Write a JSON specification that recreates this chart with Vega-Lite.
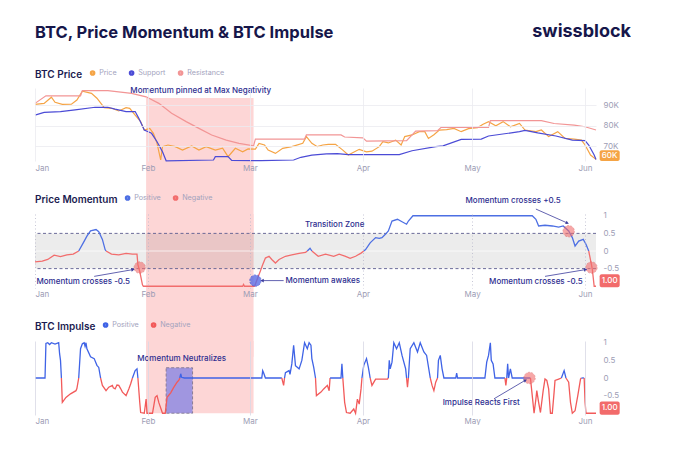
{
  "$schema": "https://vega.github.io/schema/vega-lite/v6.json",
  "background": "white",
  "padding": {"left": 32, "top": 22, "right": 0, "bottom": 0},
  "spacing": 53,
  "bounds": "flush",
  "resolve": {"scale": {"color": "independent"}, "legend": {"color": "independent"}},
  "config": {
    "view": {"stroke": null},
    "font": "Inter",
    "axis": {"domain": false, "ticks": false, "labelColor": "#9d9db5", "labelFontSize": 8, "labelFont": "Inter", "gridColor": "#ebebf0", "gridWidth": 0.8, "labelOverlap": false},
    "legend": {"orient": "top", "direction": "horizontal", "titleOrient": "left", "titleFontSize": 10, "titleFontWeight": 600, "titleColor": "#1b1b50", "titleFont": "Inter", "titleBaseline": "middle", "labelFont": "Inter", "labelFontSize": 7.2, "labelColor": "#a3a3bd", "symbolType": "circle", "symbolSize": 6, "symbolStrokeWidth": 3.2, "offset": 7, "padding": 0, "columnPadding": 6, "labelOffset": 3, "titlePadding": 6},
    "text": {"font": "Inter"}
  },
  "datasets": {
    "band": [{"a": "2026-01-31T12:00Z", "b": "2026-03-02"}],
    "zone": [{"lo": -0.5, "hi": 0.5}],
    "nbox": [{"a": "2026-02-06", "b": "2026-02-13T06:00Z", "lo": -1, "hi": 0.29}],
    "badge": [{"p": 1, "label": "60K"}, {"p": 2, "label": "1.00"}, {"p": 3, "label": "1.00"}],
    "notes": [
      {"p": 1, "t": "2026-02-15T12:00Z", "v": 96800, "txt": "Momentum pinned at Max Negativity"},
      {"p": 2, "t": "2026-03-24T06:00Z", "v": 0.74, "txt": "Transition Zone"},
      {"p": 2, "t": "2026-01-14T06:00Z", "v": -0.89, "txt": "Momentum crosses -0.5"},
      {"p": 2, "t": "2026-03-21", "v": -0.84, "txt": "Momentum awakes"},
      {"p": 2, "t": "2026-05-12T06:00Z", "v": 1.42, "txt": "Momentum crosses +0.5"},
      {"p": 2, "t": "2026-05-18T12:00Z", "v": -0.88, "txt": "Momentum crosses -0.5"},
      {"p": 3, "t": "2026-02-10T06:00Z", "v": 0.53, "txt": "Momentum Neutralizes"},
      {"p": 3, "t": "2026-05-03T12:00Z", "v": -0.72, "txt": "Impulse Reacts First"}
    ],
    "dots": [
      {"p": 2, "k": "neg", "t": "2026-01-29T18:00Z", "v": -0.47},
      {"p": 2, "k": "pos", "t": "2026-03-02T12:00Z", "v": -0.84},
      {"p": 2, "k": "neg", "t": "2026-05-27T12:00Z", "v": 0.56},
      {"p": 2, "k": "neg", "t": "2026-06-02T18:00Z", "v": -0.47},
      {"p": 3, "k": "neg", "t": "2026-05-16T18:00Z", "v": 0}
    ],
    "arrows": [
      {"p": 2, "id": "a1", "t": "2026-01-17T06:00Z", "v": -0.72, "t2": "2026-01-27T18:00Z", "v2": -0.53},
      {"p": 2, "id": "a2", "t": "2026-03-10T06:00Z", "v": -0.84, "t2": "2026-03-04T12:00Z", "v2": -0.84},
      {"p": 2, "id": "a3", "t": "2026-05-18T12:00Z", "v": 1.19, "t2": "2026-05-27", "v2": 0.8},
      {"p": 2, "id": "a4", "t": "2026-05-21", "v": -0.72, "t2": "2026-06-01", "v2": -0.53},
      {"p": 3, "id": "a5", "t": "2026-05-07", "v": -0.59, "t2": "2026-05-15T12:00Z", "v2": -0.07}
    ],
    "price": [
      {"s": "Price", "t": "2026-01-01", "v": 90300},
      {"s": "Price", "t": "2026-01-03T12:00Z", "v": 90800},
      {"s": "Price", "t": "2026-01-05T12:00Z", "v": 93800},
      {"s": "Price", "t": "2026-01-06T12:00Z", "v": 91300},
      {"s": "Price", "t": "2026-01-08T12:00Z", "v": 90300},
      {"s": "Price", "t": "2026-01-11", "v": 90400},
      {"s": "Price", "t": "2026-01-12T12:00Z", "v": 92400},
      {"s": "Price", "t": "2026-01-14", "v": 96800},
      {"s": "Price", "t": "2026-01-16T12:00Z", "v": 95700},
      {"s": "Price", "t": "2026-01-18", "v": 93300},
      {"s": "Price", "t": "2026-01-20", "v": 88700},
      {"s": "Price", "t": "2026-01-22", "v": 88400},
      {"s": "Price", "t": "2026-01-24", "v": 87100},
      {"s": "Price", "t": "2026-01-26", "v": 88700},
      {"s": "Price", "t": "2026-01-27", "v": 88400},
      {"s": "Price", "t": "2026-01-28T12:00Z", "v": 85100},
      {"s": "Price", "t": "2026-01-30", "v": 81900},
      {"s": "Price", "t": "2026-01-31", "v": 77800},
      {"s": "Price", "t": "2026-02-01T12:00Z", "v": 78600},
      {"s": "Price", "t": "2026-02-02T12:00Z", "v": 76200},
      {"s": "Price", "t": "2026-02-03T12:00Z", "v": 71300},
      {"s": "Price", "t": "2026-02-04T12:00Z", "v": 63200},
      {"s": "Price", "t": "2026-02-05", "v": 69700},
      {"s": "Price", "t": "2026-02-06T12:00Z", "v": 70500},
      {"s": "Price", "t": "2026-02-08T12:00Z", "v": 69700},
      {"s": "Price", "t": "2026-02-10T12:00Z", "v": 68000},
      {"s": "Price", "t": "2026-02-13", "v": 70000},
      {"s": "Price", "t": "2026-02-15", "v": 68000},
      {"s": "Price", "t": "2026-02-17", "v": 69700},
      {"s": "Price", "t": "2026-02-19T12:00Z", "v": 68000},
      {"s": "Price", "t": "2026-02-21T12:00Z", "v": 68900},
      {"s": "Price", "t": "2026-02-23", "v": 64800},
      {"s": "Price", "t": "2026-02-25", "v": 68900},
      {"s": "Price", "t": "2026-02-27", "v": 67200},
      {"s": "Price", "t": "2026-02-28T12:00Z", "v": 68600},
      {"s": "Price", "t": "2026-03-02T12:00Z", "v": 68500},
      {"s": "Price", "t": "2026-03-03T12:00Z", "v": 71300},
      {"s": "Price", "t": "2026-03-05", "v": 70500},
      {"s": "Price", "t": "2026-03-06", "v": 68000},
      {"s": "Price", "t": "2026-03-08", "v": 66400},
      {"s": "Price", "t": "2026-03-10", "v": 68900},
      {"s": "Price", "t": "2026-03-12T12:00Z", "v": 69700},
      {"s": "Price", "t": "2026-03-15T12:00Z", "v": 71300},
      {"s": "Price", "t": "2026-03-16T12:00Z", "v": 74600},
      {"s": "Price", "t": "2026-03-18", "v": 71300},
      {"s": "Price", "t": "2026-03-19T12:00Z", "v": 69700},
      {"s": "Price", "t": "2026-03-21", "v": 70500},
      {"s": "Price", "t": "2026-03-22T12:00Z", "v": 70800},
      {"s": "Price", "t": "2026-03-24T12:00Z", "v": 70800},
      {"s": "Price", "t": "2026-03-26T12:00Z", "v": 68000},
      {"s": "Price", "t": "2026-03-28", "v": 65600},
      {"s": "Price", "t": "2026-03-31", "v": 68400},
      {"s": "Price", "t": "2026-04-02", "v": 67200},
      {"s": "Price", "t": "2026-04-03T12:00Z", "v": 67500},
      {"s": "Price", "t": "2026-04-05T12:00Z", "v": 69700},
      {"s": "Price", "t": "2026-04-06T12:00Z", "v": 72100},
      {"s": "Price", "t": "2026-04-08", "v": 71500},
      {"s": "Price", "t": "2026-04-10", "v": 72900},
      {"s": "Price", "t": "2026-04-11T12:00Z", "v": 70500},
      {"s": "Price", "t": "2026-04-12T12:00Z", "v": 74600},
      {"s": "Price", "t": "2026-04-14T12:00Z", "v": 75400},
      {"s": "Price", "t": "2026-04-16T12:00Z", "v": 77000},
      {"s": "Price", "t": "2026-04-18", "v": 77000},
      {"s": "Price", "t": "2026-04-19", "v": 73700},
      {"s": "Price", "t": "2026-04-20T12:00Z", "v": 75500},
      {"s": "Price", "t": "2026-04-22", "v": 77800},
      {"s": "Price", "t": "2026-04-24", "v": 78000},
      {"s": "Price", "t": "2026-04-26", "v": 78600},
      {"s": "Price", "t": "2026-04-28", "v": 77000},
      {"s": "Price", "t": "2026-04-30", "v": 78500},
      {"s": "Price", "t": "2026-05-02T12:00Z", "v": 79000},
      {"s": "Price", "t": "2026-05-04", "v": 80600},
      {"s": "Price", "t": "2026-05-05T12:00Z", "v": 81900},
      {"s": "Price", "t": "2026-05-07T12:00Z", "v": 79900},
      {"s": "Price", "t": "2026-05-09T12:00Z", "v": 81900},
      {"s": "Price", "t": "2026-05-11T12:00Z", "v": 79400},
      {"s": "Price", "t": "2026-05-14", "v": 81000},
      {"s": "Price", "t": "2026-05-15T12:00Z", "v": 77800},
      {"s": "Price", "t": "2026-05-18T12:00Z", "v": 77000},
      {"s": "Price", "t": "2026-05-20", "v": 77800},
      {"s": "Price", "t": "2026-05-22", "v": 74600},
      {"s": "Price", "t": "2026-05-24T12:00Z", "v": 77000},
      {"s": "Price", "t": "2026-05-26T12:00Z", "v": 73700},
      {"s": "Price", "t": "2026-05-29", "v": 73400},
      {"s": "Price", "t": "2026-05-31", "v": 72900},
      {"s": "Price", "t": "2026-06-01", "v": 70500},
      {"s": "Price", "t": "2026-06-02T12:00Z", "v": 65600},
      {"s": "Price", "t": "2026-06-04", "v": 63500},
      {"s": "Support", "t": "2026-01-01", "v": 85100},
      {"s": "Support", "t": "2026-01-03T12:00Z", "v": 86400},
      {"s": "Support", "t": "2026-01-08", "v": 86800},
      {"s": "Support", "t": "2026-01-12", "v": 87600},
      {"s": "Support", "t": "2026-01-17T12:00Z", "v": 88900},
      {"s": "Support", "t": "2026-01-21", "v": 88900},
      {"s": "Support", "t": "2026-01-23", "v": 88000},
      {"s": "Support", "t": "2026-01-26", "v": 86800},
      {"s": "Support", "t": "2026-01-28T12:00Z", "v": 86800},
      {"s": "Support", "t": "2026-01-29T12:00Z", "v": 83500},
      {"s": "Support", "t": "2026-01-31", "v": 77800},
      {"s": "Support", "t": "2026-02-02", "v": 76200},
      {"s": "Support", "t": "2026-02-03T12:00Z", "v": 72100},
      {"s": "Support", "t": "2026-02-05", "v": 67200},
      {"s": "Support", "t": "2026-02-06", "v": 62800},
      {"s": "Support", "t": "2026-02-19", "v": 63200},
      {"s": "Support", "t": "2026-02-19T12:00Z", "v": 64800},
      {"s": "Support", "t": "2026-02-23", "v": 64800},
      {"s": "Support", "t": "2026-02-24", "v": 63000},
      {"s": "Support", "t": "2026-03-04", "v": 62900},
      {"s": "Support", "t": "2026-03-13", "v": 63200},
      {"s": "Support", "t": "2026-03-15", "v": 64500},
      {"s": "Support", "t": "2026-03-18", "v": 65600},
      {"s": "Support", "t": "2026-03-22", "v": 66200},
      {"s": "Support", "t": "2026-03-25", "v": 66300},
      {"s": "Support", "t": "2026-03-28", "v": 65800},
      {"s": "Support", "t": "2026-04-11", "v": 65800},
      {"s": "Support", "t": "2026-04-14T12:00Z", "v": 67700},
      {"s": "Support", "t": "2026-04-21", "v": 69700},
      {"s": "Support", "t": "2026-04-23", "v": 70100},
      {"s": "Support", "t": "2026-04-28", "v": 73200},
      {"s": "Support", "t": "2026-05-03T12:00Z", "v": 73400},
      {"s": "Support", "t": "2026-05-05T12:00Z", "v": 74900},
      {"s": "Support", "t": "2026-05-14", "v": 77000},
      {"s": "Support", "t": "2026-05-15T12:00Z", "v": 77600},
      {"s": "Support", "t": "2026-05-19", "v": 76400},
      {"s": "Support", "t": "2026-05-24", "v": 74900},
      {"s": "Support", "t": "2026-05-28T12:00Z", "v": 72900},
      {"s": "Support", "t": "2026-06-01", "v": 72600},
      {"s": "Support", "t": "2026-06-02", "v": 70500},
      {"s": "Support", "t": "2026-06-03T12:00Z", "v": 65600},
      {"s": "Support", "t": "2026-06-04", "v": 63400},
      {"s": "Resistance", "t": "2026-01-01", "v": 90800},
      {"s": "Resistance", "t": "2026-01-04", "v": 94500},
      {"s": "Resistance", "t": "2026-01-13T12:00Z", "v": 94500},
      {"s": "Resistance", "t": "2026-01-14", "v": 97000},
      {"s": "Resistance", "t": "2026-01-21", "v": 97000},
      {"s": "Resistance", "t": "2026-01-27T12:00Z", "v": 95700},
      {"s": "Resistance", "t": "2026-01-31T12:00Z", "v": 94000},
      {"s": "Resistance", "t": "2026-02-04", "v": 90800},
      {"s": "Resistance", "t": "2026-02-07T12:00Z", "v": 86000},
      {"s": "Resistance", "t": "2026-02-11T12:00Z", "v": 81900},
      {"s": "Resistance", "t": "2026-02-15", "v": 78600},
      {"s": "Resistance", "t": "2026-02-18T12:00Z", "v": 75400},
      {"s": "Resistance", "t": "2026-02-22T12:00Z", "v": 72900},
      {"s": "Resistance", "t": "2026-02-26", "v": 71300},
      {"s": "Resistance", "t": "2026-03-02", "v": 70100},
      {"s": "Resistance", "t": "2026-03-02T12:00Z", "v": 73400},
      {"s": "Resistance", "t": "2026-03-16", "v": 73400},
      {"s": "Resistance", "t": "2026-03-16T12:00Z", "v": 75400},
      {"s": "Resistance", "t": "2026-03-26", "v": 75400},
      {"s": "Resistance", "t": "2026-03-27", "v": 74400},
      {"s": "Resistance", "t": "2026-04-01", "v": 74000},
      {"s": "Resistance", "t": "2026-04-02", "v": 72400},
      {"s": "Resistance", "t": "2026-04-13", "v": 72600},
      {"s": "Resistance", "t": "2026-04-15T12:00Z", "v": 77300},
      {"s": "Resistance", "t": "2026-04-21T12:00Z", "v": 77500},
      {"s": "Resistance", "t": "2026-04-22T12:00Z", "v": 79100},
      {"s": "Resistance", "t": "2026-05-05T12:00Z", "v": 79100},
      {"s": "Resistance", "t": "2026-05-06", "v": 82400},
      {"s": "Resistance", "t": "2026-05-20", "v": 82400},
      {"s": "Resistance", "t": "2026-05-23T12:00Z", "v": 81000},
      {"s": "Resistance", "t": "2026-05-29", "v": 80200},
      {"s": "Resistance", "t": "2026-06-01", "v": 79400},
      {"s": "Resistance", "t": "2026-06-04", "v": 77800}
    ],
    "mom": [
      {"g": "n1", "c": "Negative", "t": "2026-01-01", "v": -0.31},
      {"g": "n1", "c": "Negative", "t": "2026-01-03", "v": -0.29},
      {"g": "n1", "c": "Negative", "t": "2026-01-04T12:00Z", "v": -0.24},
      {"g": "n1", "c": "Negative", "t": "2026-01-06T06:00Z", "v": -0.12},
      {"g": "n1", "c": "Negative", "t": "2026-01-08", "v": -0.16},
      {"g": "n1", "c": "Negative", "t": "2026-01-09T18:00Z", "v": -0.11},
      {"g": "n1", "c": "Negative", "t": "2026-01-11T12:00Z", "v": -0.09},
      {"g": "n1", "c": "Negative", "t": "2026-01-13", "v": 0},
      {"g": "p1", "c": "Positive", "t": "2026-01-13", "v": 0},
      {"g": "p1", "c": "Positive", "t": "2026-01-14T06:00Z", "v": 0.23},
      {"g": "p1", "c": "Positive", "t": "2026-01-15T06:00Z", "v": 0.42},
      {"g": "p1", "c": "Positive", "t": "2026-01-16T06:00Z", "v": 0.57},
      {"g": "p1", "c": "Positive", "t": "2026-01-17T18:00Z", "v": 0.61},
      {"g": "p1", "c": "Positive", "t": "2026-01-18T12:00Z", "v": 0.55},
      {"g": "p1", "c": "Positive", "t": "2026-01-19T12:00Z", "v": 0.33},
      {"g": "p1", "c": "Positive", "t": "2026-01-20T06:00Z", "v": 0.04},
      {"g": "p1", "c": "Positive", "t": "2026-01-20T12:00Z", "v": 0},
      {"g": "n2", "c": "Negative", "t": "2026-01-20T12:00Z", "v": 0},
      {"g": "n2", "c": "Negative", "t": "2026-01-22", "v": -0.09},
      {"g": "n2", "c": "Negative", "t": "2026-01-24", "v": -0.11},
      {"g": "n2", "c": "Negative", "t": "2026-01-26", "v": -0.07},
      {"g": "n2", "c": "Negative", "t": "2026-01-27T18:00Z", "v": -0.09},
      {"g": "n2", "c": "Negative", "t": "2026-01-29", "v": -0.09},
      {"g": "n2", "c": "Negative", "t": "2026-01-29T06:00Z", "v": -0.39},
      {"g": "n2", "c": "Negative", "t": "2026-01-29T18:00Z", "v": -0.58},
      {"g": "n2", "c": "Negative", "t": "2026-01-30T12:00Z", "v": -0.96},
      {"g": "n2", "c": "Negative", "t": "2026-01-30T18:00Z", "v": -1},
      {"g": "n2", "c": "Negative", "t": "2026-02-27", "v": -1},
      {"g": "n2", "c": "Negative", "t": "2026-02-27T06:00Z", "v": -0.95},
      {"g": "n2", "c": "Negative", "t": "2026-02-27T12:00Z", "v": -1},
      {"g": "n2", "c": "Negative", "t": "2026-03-02T06:00Z", "v": -1},
      {"g": "n2", "c": "Negative", "t": "2026-03-03", "v": -0.8},
      {"g": "n2", "c": "Negative", "t": "2026-03-03T12:00Z", "v": -0.67},
      {"g": "n2", "c": "Negative", "t": "2026-03-04T12:00Z", "v": -0.39},
      {"g": "n2", "c": "Negative", "t": "2026-03-05T06:00Z", "v": -0.2},
      {"g": "n2", "c": "Negative", "t": "2026-03-06T06:00Z", "v": -0.15},
      {"g": "n2", "c": "Negative", "t": "2026-03-07", "v": -0.24},
      {"g": "n2", "c": "Negative", "t": "2026-03-08", "v": -0.34},
      {"g": "n2", "c": "Negative", "t": "2026-03-09", "v": -0.24},
      {"g": "n2", "c": "Negative", "t": "2026-03-10T18:00Z", "v": -0.15},
      {"g": "n2", "c": "Negative", "t": "2026-03-12T12:00Z", "v": -0.11},
      {"g": "n2", "c": "Negative", "t": "2026-03-14T12:00Z", "v": -0.07},
      {"g": "n2", "c": "Negative", "t": "2026-03-16T06:00Z", "v": -0.04},
      {"g": "n2", "c": "Negative", "t": "2026-03-16T18:00Z", "v": 0},
      {"g": "p2", "c": "Positive", "t": "2026-03-16T18:00Z", "v": 0},
      {"g": "p2", "c": "Positive", "t": "2026-03-17T12:00Z", "v": 0.08},
      {"g": "p2", "c": "Positive", "t": "2026-03-18", "v": 0},
      {"g": "n3", "c": "Negative", "t": "2026-03-18", "v": 0},
      {"g": "n3", "c": "Negative", "t": "2026-03-19T18:00Z", "v": -0.15},
      {"g": "n3", "c": "Negative", "t": "2026-03-21T18:00Z", "v": -0.09},
      {"g": "n3", "c": "Negative", "t": "2026-03-24", "v": -0.15},
      {"g": "n3", "c": "Negative", "t": "2026-03-25T12:00Z", "v": -0.09},
      {"g": "n3", "c": "Negative", "t": "2026-03-27T06:00Z", "v": -0.15},
      {"g": "n3", "c": "Negative", "t": "2026-03-28T12:00Z", "v": -0.21},
      {"g": "n3", "c": "Negative", "t": "2026-03-30", "v": -0.15},
      {"g": "n3", "c": "Negative", "t": "2026-03-31T12:00Z", "v": -0.06},
      {"g": "n3", "c": "Negative", "t": "2026-04-01T06:00Z", "v": 0},
      {"g": "p3", "c": "Positive", "t": "2026-04-01T06:00Z", "v": 0},
      {"g": "p3", "c": "Positive", "t": "2026-04-01T18:00Z", "v": 0.04},
      {"g": "p3", "c": "Positive", "t": "2026-04-03", "v": 0.23},
      {"g": "p3", "c": "Positive", "t": "2026-04-04T12:00Z", "v": 0.38},
      {"g": "p3", "c": "Positive", "t": "2026-04-05T12:00Z", "v": 0.36},
      {"g": "p3", "c": "Positive", "t": "2026-04-06T06:00Z", "v": 0.38},
      {"g": "p3", "c": "Positive", "t": "2026-04-07T06:00Z", "v": 0.48},
      {"g": "p3", "c": "Positive", "t": "2026-04-08", "v": 0.57},
      {"g": "p3", "c": "Positive", "t": "2026-04-09", "v": 0.85},
      {"g": "p3", "c": "Positive", "t": "2026-04-10T12:00Z", "v": 0.9},
      {"g": "p3", "c": "Positive", "t": "2026-04-11T18:00Z", "v": 0.83},
      {"g": "p3", "c": "Positive", "t": "2026-04-13", "v": 0.76},
      {"g": "p3", "c": "Positive", "t": "2026-04-13T12:00Z", "v": 0.85},
      {"g": "p3", "c": "Positive", "t": "2026-04-14T18:00Z", "v": 1},
      {"g": "p3", "c": "Positive", "t": "2026-05-17T12:00Z", "v": 1},
      {"g": "p3", "c": "Positive", "t": "2026-05-18T12:00Z", "v": 0.9},
      {"g": "p3", "c": "Positive", "t": "2026-05-19T06:00Z", "v": 0.71},
      {"g": "p3", "c": "Positive", "t": "2026-05-21", "v": 0.73},
      {"g": "p3", "c": "Positive", "t": "2026-05-23", "v": 0.71},
      {"g": "p3", "c": "Positive", "t": "2026-05-24T18:00Z", "v": 0.68},
      {"g": "p3", "c": "Positive", "t": "2026-05-26", "v": 0.71},
      {"g": "p3", "c": "Positive", "t": "2026-05-27T12:00Z", "v": 0.57},
      {"g": "p3", "c": "Positive", "t": "2026-05-28T12:00Z", "v": 0.38},
      {"g": "p3", "c": "Positive", "t": "2026-05-29T06:00Z", "v": 0.14},
      {"g": "p3", "c": "Positive", "t": "2026-05-30T06:00Z", "v": 0.28},
      {"g": "p3", "c": "Positive", "t": "2026-05-31T12:00Z", "v": 0.33},
      {"g": "p3", "c": "Positive", "t": "2026-06-01T06:00Z", "v": 0.19},
      {"g": "p3", "c": "Positive", "t": "2026-06-02", "v": 0},
      {"g": "n4", "c": "Negative", "t": "2026-06-02", "v": 0},
      {"g": "n4", "c": "Negative", "t": "2026-06-02T18:00Z", "v": -0.39},
      {"g": "n4", "c": "Negative", "t": "2026-06-03", "v": -0.53},
      {"g": "n4", "c": "Negative", "t": "2026-06-03T12:00Z", "v": -1},
      {"g": "n4", "c": "Negative", "t": "2026-06-04", "v": -1}
    ],
    "imp": [
      {"g": "b1", "c": "Positive", "t": "2026-01-01", "v": 0},
      {"g": "b1", "c": "Positive", "t": "2026-01-03T18:00Z", "v": 0},
      {"g": "b1", "c": "Positive", "t": "2026-01-04", "v": 0.98},
      {"g": "b1", "c": "Positive", "t": "2026-01-04T12:00Z", "v": 1},
      {"g": "b1", "c": "Positive", "t": "2026-01-05", "v": 0.95},
      {"g": "b1", "c": "Positive", "t": "2026-01-05T12:00Z", "v": 1},
      {"g": "b1", "c": "Positive", "t": "2026-01-06T12:00Z", "v": 0.96},
      {"g": "b1", "c": "Positive", "t": "2026-01-07T12:00Z", "v": 1},
      {"g": "b1", "c": "Positive", "t": "2026-01-07T18:00Z", "v": 0.69},
      {"g": "b1", "c": "Positive", "t": "2026-01-08", "v": 0.5},
      {"g": "b1", "c": "Positive", "t": "2026-01-08T06:00Z", "v": 0},
      {"g": "r1", "c": "Negative", "t": "2026-01-08T06:00Z", "v": 0},
      {"g": "r1", "c": "Negative", "t": "2026-01-08T12:00Z", "v": -0.69},
      {"g": "r1", "c": "Negative", "t": "2026-01-09T12:00Z", "v": -0.55},
      {"g": "r1", "c": "Negative", "t": "2026-01-10T18:00Z", "v": -0.45},
      {"g": "r1", "c": "Negative", "t": "2026-01-12T06:00Z", "v": -0.36},
      {"g": "r1", "c": "Negative", "t": "2026-01-12T12:00Z", "v": -0.3},
      {"g": "r1", "c": "Negative", "t": "2026-01-13", "v": 0},
      {"g": "b2", "c": "Positive", "t": "2026-01-13", "v": 0},
      {"g": "b2", "c": "Positive", "t": "2026-01-13T12:00Z", "v": 0.83},
      {"g": "b2", "c": "Positive", "t": "2026-01-14", "v": 0.97},
      {"g": "b2", "c": "Positive", "t": "2026-01-14T12:00Z", "v": 1},
      {"g": "b2", "c": "Positive", "t": "2026-01-14T18:00Z", "v": 0.9},
      {"g": "b2", "c": "Positive", "t": "2026-01-15", "v": 1},
      {"g": "b2", "c": "Positive", "t": "2026-01-15T06:00Z", "v": 0.83},
      {"g": "b2", "c": "Positive", "t": "2026-01-16T06:00Z", "v": 0.6},
      {"g": "b2", "c": "Positive", "t": "2026-01-17T06:00Z", "v": 0.55},
      {"g": "b2", "c": "Positive", "t": "2026-01-18", "v": 0.36},
      {"g": "b2", "c": "Positive", "t": "2026-01-18T12:00Z", "v": 0.3},
      {"g": "b2", "c": "Positive", "t": "2026-01-19", "v": 0},
      {"g": "r2", "c": "Negative", "t": "2026-01-19", "v": 0},
      {"g": "r2", "c": "Negative", "t": "2026-01-19T12:00Z", "v": -0.21},
      {"g": "r2", "c": "Negative", "t": "2026-01-20T12:00Z", "v": -0.36},
      {"g": "r2", "c": "Negative", "t": "2026-01-21T06:00Z", "v": -0.26},
      {"g": "r2", "c": "Negative", "t": "2026-01-22T06:00Z", "v": -0.21},
      {"g": "r2", "c": "Negative", "t": "2026-01-22T12:00Z", "v": -0.28},
      {"g": "r2", "c": "Negative", "t": "2026-01-23", "v": -0.31},
      {"g": "r2", "c": "Negative", "t": "2026-01-23T12:00Z", "v": -0.2},
      {"g": "r2", "c": "Negative", "t": "2026-01-24", "v": -0.21},
      {"g": "r2", "c": "Negative", "t": "2026-01-24T12:00Z", "v": -0.3},
      {"g": "r2", "c": "Negative", "t": "2026-01-25", "v": -0.4},
      {"g": "r2", "c": "Negative", "t": "2026-01-26", "v": -0.5},
      {"g": "r2", "c": "Negative", "t": "2026-01-26T18:00Z", "v": -0.31},
      {"g": "r2", "c": "Negative", "t": "2026-01-27T06:00Z", "v": -0.17},
      {"g": "r2", "c": "Negative", "t": "2026-01-27T18:00Z", "v": 0},
      {"g": "b3", "c": "Positive", "t": "2026-01-27T18:00Z", "v": 0},
      {"g": "b3", "c": "Positive", "t": "2026-01-28T12:00Z", "v": 0.21},
      {"g": "b3", "c": "Positive", "t": "2026-01-29", "v": 0.26},
      {"g": "b3", "c": "Positive", "t": "2026-01-29T06:00Z", "v": 0},
      {"g": "r3", "c": "Negative", "t": "2026-01-29T06:00Z", "v": 0},
      {"g": "r3", "c": "Negative", "t": "2026-01-29T18:00Z", "v": -0.69},
      {"g": "r3", "c": "Negative", "t": "2026-01-30", "v": -0.98},
      {"g": "r3", "c": "Negative", "t": "2026-01-31", "v": -1},
      {"g": "r3", "c": "Negative", "t": "2026-01-31T12:00Z", "v": -0.6},
      {"g": "r3", "c": "Negative", "t": "2026-01-31T18:00Z", "v": -1},
      {"g": "r3", "c": "Negative", "t": "2026-02-02T06:00Z", "v": -1},
      {"g": "r3", "c": "Negative", "t": "2026-02-03", "v": -0.55},
      {"g": "r3", "c": "Negative", "t": "2026-02-03T12:00Z", "v": -0.5},
      {"g": "r3", "c": "Negative", "t": "2026-02-04", "v": -0.7},
      {"g": "r3", "c": "Negative", "t": "2026-02-05", "v": -1},
      {"g": "r3", "c": "Negative", "t": "2026-02-05T18:00Z", "v": -1},
      {"g": "r3", "c": "Negative", "t": "2026-02-06T06:00Z", "v": -0.55},
      {"g": "r3", "c": "Negative", "t": "2026-02-07T06:00Z", "v": -0.42},
      {"g": "r3", "c": "Negative", "t": "2026-02-08", "v": -0.28},
      {"g": "r3", "c": "Negative", "t": "2026-02-09", "v": -0.12},
      {"g": "r3", "c": "Negative", "t": "2026-02-09T12:00Z", "v": -0.06},
      {"g": "r3", "c": "Negative", "t": "2026-02-09T18:00Z", "v": 0},
      {"g": "b4", "c": "Positive", "t": "2026-02-09T18:00Z", "v": 0},
      {"g": "b4", "c": "Positive", "t": "2026-02-10", "v": 0.12},
      {"g": "b4", "c": "Positive", "t": "2026-02-10T06:00Z", "v": 0.02},
      {"g": "b4", "c": "Positive", "t": "2026-02-11", "v": 0},
      {"g": "b4", "c": "Positive", "t": "2026-03-04T06:00Z", "v": 0},
      {"g": "b4", "c": "Positive", "t": "2026-03-04T12:00Z", "v": 0.21},
      {"g": "b4", "c": "Positive", "t": "2026-03-04T18:00Z", "v": 0.15},
      {"g": "b4", "c": "Positive", "t": "2026-03-05T06:00Z", "v": 0},
      {"g": "b4", "c": "Positive", "t": "2026-03-09T18:00Z", "v": 0},
      {"g": "r4", "c": "Negative", "t": "2026-03-09T18:00Z", "v": 0},
      {"g": "r4", "c": "Negative", "t": "2026-03-10T06:00Z", "v": -0.21},
      {"g": "r4", "c": "Negative", "t": "2026-03-10T12:00Z", "v": 0},
      {"g": "b5", "c": "Positive", "t": "2026-03-10T12:00Z", "v": 0},
      {"g": "b5", "c": "Positive", "t": "2026-03-10T18:00Z", "v": 0.15},
      {"g": "b5", "c": "Positive", "t": "2026-03-11T18:00Z", "v": 0.21},
      {"g": "b5", "c": "Positive", "t": "2026-03-12", "v": 0.1},
      {"g": "b5", "c": "Positive", "t": "2026-03-12T12:00Z", "v": 0.4},
      {"g": "b5", "c": "Positive", "t": "2026-03-13", "v": 0.93},
      {"g": "b5", "c": "Positive", "t": "2026-03-13T12:00Z", "v": 0.35},
      {"g": "b5", "c": "Positive", "t": "2026-03-14T12:00Z", "v": 0.26},
      {"g": "b5", "c": "Positive", "t": "2026-03-15T06:00Z", "v": 0.5},
      {"g": "b5", "c": "Positive", "t": "2026-03-16", "v": 1},
      {"g": "b5", "c": "Positive", "t": "2026-03-16T18:00Z", "v": 0.83},
      {"g": "b5", "c": "Positive", "t": "2026-03-17T06:00Z", "v": 1},
      {"g": "b5", "c": "Positive", "t": "2026-03-17T18:00Z", "v": 0.93},
      {"g": "b5", "c": "Positive", "t": "2026-03-18", "v": 0.55},
      {"g": "b5", "c": "Positive", "t": "2026-03-18T12:00Z", "v": 0.31},
      {"g": "b5", "c": "Positive", "t": "2026-03-19", "v": 0},
      {"g": "r5", "c": "Negative", "t": "2026-03-19", "v": 0},
      {"g": "r5", "c": "Negative", "t": "2026-03-19T06:00Z", "v": -0.5},
      {"g": "r5", "c": "Negative", "t": "2026-03-20T12:00Z", "v": -0.4},
      {"g": "r5", "c": "Negative", "t": "2026-03-21T06:00Z", "v": -0.31},
      {"g": "r5", "c": "Negative", "t": "2026-03-22T06:00Z", "v": -0.21},
      {"g": "r5", "c": "Negative", "t": "2026-03-22T18:00Z", "v": -0.36},
      {"g": "r5", "c": "Negative", "t": "2026-03-23", "v": 0},
      {"g": "b6", "c": "Positive", "t": "2026-03-23", "v": 0},
      {"g": "b6", "c": "Positive", "t": "2026-03-26", "v": 0},
      {"g": "b6", "c": "Positive", "t": "2026-03-26T06:00Z", "v": 0.4},
      {"g": "b6", "c": "Positive", "t": "2026-03-26T12:00Z", "v": 0},
      {"g": "r6", "c": "Negative", "t": "2026-03-26T12:00Z", "v": 0},
      {"g": "r6", "c": "Negative", "t": "2026-03-27", "v": -0.69},
      {"g": "r6", "c": "Negative", "t": "2026-03-27T12:00Z", "v": -0.98},
      {"g": "r6", "c": "Negative", "t": "2026-03-28T12:00Z", "v": -1},
      {"g": "r6", "c": "Negative", "t": "2026-03-29T12:00Z", "v": -0.88},
      {"g": "r6", "c": "Negative", "t": "2026-03-30", "v": -1},
      {"g": "r6", "c": "Negative", "t": "2026-03-30T12:00Z", "v": -0.6},
      {"g": "r6", "c": "Negative", "t": "2026-03-31", "v": -0.74},
      {"g": "r6", "c": "Negative", "t": "2026-03-31T12:00Z", "v": -0.31},
      {"g": "r6", "c": "Negative", "t": "2026-03-31T18:00Z", "v": 0},
      {"g": "b7", "c": "Positive", "t": "2026-03-31T18:00Z", "v": 0},
      {"g": "b7", "c": "Positive", "t": "2026-04-01T06:00Z", "v": 0.36},
      {"g": "b7", "c": "Positive", "t": "2026-04-02", "v": 0.55},
      {"g": "b7", "c": "Positive", "t": "2026-04-02T12:00Z", "v": 0.31},
      {"g": "b7", "c": "Positive", "t": "2026-04-02T18:00Z", "v": 0.16},
      {"g": "b7", "c": "Positive", "t": "2026-04-03", "v": 0},
      {"g": "r7", "c": "Negative", "t": "2026-04-03", "v": 0},
      {"g": "r7", "c": "Negative", "t": "2026-04-03T12:00Z", "v": -0.21},
      {"g": "r7", "c": "Negative", "t": "2026-04-04T12:00Z", "v": -0.03},
      {"g": "r7", "c": "Negative", "t": "2026-04-07T18:00Z", "v": -0.03},
      {"g": "r7", "c": "Negative", "t": "2026-04-08", "v": 0},
      {"g": "b8", "c": "Positive", "t": "2026-04-08", "v": 0},
      {"g": "b8", "c": "Positive", "t": "2026-04-08T06:00Z", "v": 0.5},
      {"g": "b8", "c": "Positive", "t": "2026-04-08T12:00Z", "v": 0.26},
      {"g": "b8", "c": "Positive", "t": "2026-04-09", "v": 0.45},
      {"g": "b8", "c": "Positive", "t": "2026-04-09T12:00Z", "v": 1},
      {"g": "b8", "c": "Positive", "t": "2026-04-10T06:00Z", "v": 0.83},
      {"g": "b8", "c": "Positive", "t": "2026-04-11", "v": 1},
      {"g": "b8", "c": "Positive", "t": "2026-04-11T18:00Z", "v": 0.64},
      {"g": "b8", "c": "Positive", "t": "2026-04-12T18:00Z", "v": 0.26},
      {"g": "b8", "c": "Positive", "t": "2026-04-13", "v": 0},
      {"g": "r8", "c": "Negative", "t": "2026-04-13", "v": 0},
      {"g": "r8", "c": "Negative", "t": "2026-04-13T06:00Z", "v": -0.26},
      {"g": "r8", "c": "Negative", "t": "2026-04-13T12:00Z", "v": 0},
      {"g": "b9", "c": "Positive", "t": "2026-04-13T12:00Z", "v": 0},
      {"g": "b9", "c": "Positive", "t": "2026-04-14", "v": 0.83},
      {"g": "b9", "c": "Positive", "t": "2026-04-15", "v": 1},
      {"g": "b9", "c": "Positive", "t": "2026-04-16", "v": 0.74},
      {"g": "b9", "c": "Positive", "t": "2026-04-16T18:00Z", "v": 1},
      {"g": "b9", "c": "Positive", "t": "2026-04-17T18:00Z", "v": 0.74},
      {"g": "b9", "c": "Positive", "t": "2026-04-18T12:00Z", "v": 0.64},
      {"g": "b9", "c": "Positive", "t": "2026-04-19T12:00Z", "v": 0},
      {"g": "r9", "c": "Negative", "t": "2026-04-19T12:00Z", "v": 0},
      {"g": "r9", "c": "Negative", "t": "2026-04-20", "v": -0.21},
      {"g": "r9", "c": "Negative", "t": "2026-04-20T12:00Z", "v": -0.36},
      {"g": "r9", "c": "Negative", "t": "2026-04-21", "v": -0.12},
      {"g": "r9", "c": "Negative", "t": "2026-04-21T12:00Z", "v": 0},
      {"g": "b10", "c": "Positive", "t": "2026-04-21T12:00Z", "v": 0},
      {"g": "b10", "c": "Positive", "t": "2026-04-21T18:00Z", "v": 0.5},
      {"g": "b10", "c": "Positive", "t": "2026-04-22T06:00Z", "v": 0.64},
      {"g": "b10", "c": "Positive", "t": "2026-04-22T18:00Z", "v": 0.26},
      {"g": "b10", "c": "Positive", "t": "2026-04-23T06:00Z", "v": 0},
      {"g": "b10", "c": "Positive", "t": "2026-04-26T12:00Z", "v": 0},
      {"g": "b10", "c": "Positive", "t": "2026-04-26T18:00Z", "v": 0.14},
      {"g": "b10", "c": "Positive", "t": "2026-04-27", "v": 0},
      {"g": "b10", "c": "Positive", "t": "2026-05-04T12:00Z", "v": 0},
      {"g": "b10", "c": "Positive", "t": "2026-05-05", "v": 0.45},
      {"g": "b10", "c": "Positive", "t": "2026-05-05T12:00Z", "v": 0.64},
      {"g": "b10", "c": "Positive", "t": "2026-05-06", "v": 1},
      {"g": "b10", "c": "Positive", "t": "2026-05-06T06:00Z", "v": 0.5},
      {"g": "b10", "c": "Positive", "t": "2026-05-06T18:00Z", "v": 0.4},
      {"g": "b10", "c": "Positive", "t": "2026-05-07T06:00Z", "v": 0},
      {"g": "b10", "c": "Positive", "t": "2026-05-10", "v": 0},
      {"g": "r10", "c": "Negative", "t": "2026-05-10", "v": 0},
      {"g": "r10", "c": "Negative", "t": "2026-05-10T06:00Z", "v": -0.21},
      {"g": "r10", "c": "Negative", "t": "2026-05-10T12:00Z", "v": 0},
      {"g": "b11", "c": "Positive", "t": "2026-05-10T12:00Z", "v": 0},
      {"g": "b11", "c": "Positive", "t": "2026-05-10T18:00Z", "v": 0.4},
      {"g": "b11", "c": "Positive", "t": "2026-05-11", "v": 0},
      {"g": "b11", "c": "Positive", "t": "2026-05-11T12:00Z", "v": 0.26},
      {"g": "b11", "c": "Positive", "t": "2026-05-12", "v": 0},
      {"g": "b11", "c": "Positive", "t": "2026-05-17", "v": 0},
      {"g": "r11", "c": "Negative", "t": "2026-05-17", "v": 0},
      {"g": "r11", "c": "Negative", "t": "2026-05-17T12:00Z", "v": -0.5},
      {"g": "r11", "c": "Negative", "t": "2026-05-18", "v": -1},
      {"g": "r11", "c": "Negative", "t": "2026-05-18T12:00Z", "v": -0.6},
      {"g": "r11", "c": "Negative", "t": "2026-05-18T18:00Z", "v": -0.36},
      {"g": "r11", "c": "Negative", "t": "2026-05-19T06:00Z", "v": -0.69},
      {"g": "r11", "c": "Negative", "t": "2026-05-19T18:00Z", "v": -0.98},
      {"g": "r11", "c": "Negative", "t": "2026-05-20T12:00Z", "v": -0.36},
      {"g": "r11", "c": "Negative", "t": "2026-05-21", "v": -0.03},
      {"g": "r11", "c": "Negative", "t": "2026-05-21T12:00Z", "v": -0.07},
      {"g": "r11", "c": "Negative", "t": "2026-05-22", "v": -0.31},
      {"g": "r11", "c": "Negative", "t": "2026-05-22T12:00Z", "v": -1},
      {"g": "r11", "c": "Negative", "t": "2026-05-23", "v": -1},
      {"g": "r11", "c": "Negative", "t": "2026-05-23T12:00Z", "v": -0.4},
      {"g": "r11", "c": "Negative", "t": "2026-05-23T18:00Z", "v": -0.07},
      {"g": "r11", "c": "Negative", "t": "2026-05-24T18:00Z", "v": -0.03},
      {"g": "r11", "c": "Negative", "t": "2026-05-25T12:00Z", "v": 0},
      {"g": "b12", "c": "Positive", "t": "2026-05-25T12:00Z", "v": 0},
      {"g": "b12", "c": "Positive", "t": "2026-05-26T06:00Z", "v": 0.21},
      {"g": "b12", "c": "Positive", "t": "2026-05-26T18:00Z", "v": 0},
      {"g": "r12", "c": "Negative", "t": "2026-05-26T18:00Z", "v": 0},
      {"g": "r12", "c": "Negative", "t": "2026-05-27T12:00Z", "v": -0.12},
      {"g": "r12", "c": "Negative", "t": "2026-05-28", "v": -0.69},
      {"g": "r12", "c": "Negative", "t": "2026-05-28T12:00Z", "v": -1},
      {"g": "r12", "c": "Negative", "t": "2026-05-29T06:00Z", "v": -0.93},
      {"g": "r12", "c": "Negative", "t": "2026-05-30", "v": -0.5},
      {"g": "r12", "c": "Negative", "t": "2026-05-30T18:00Z", "v": -0.03},
      {"g": "r12", "c": "Negative", "t": "2026-05-31", "v": 0},
      {"g": "b13", "c": "Positive", "t": "2026-05-31", "v": 0},
      {"g": "b13", "c": "Positive", "t": "2026-05-31T18:00Z", "v": 0},
      {"g": "r13", "c": "Negative", "t": "2026-05-31T18:00Z", "v": 0},
      {"g": "r13", "c": "Negative", "t": "2026-06-01", "v": -0.69},
      {"g": "r13", "c": "Negative", "t": "2026-06-01T06:00Z", "v": -1},
      {"g": "r13", "c": "Negative", "t": "2026-06-04", "v": -1}
    ]
  },
  "vconcat": [
    {
      "spacing": 6,
      "bounds": "flush",
      "hconcat": [
        {
          "width": 400, "height": 1,
          "title": {"text": "BTC, Price Momentum & BTC Impulse", "orient": "top", "baseline": "alphabetic", "offset": -25, "anchor": "start", "fontSize": 16.5, "fontWeight": 700, "color": "#16164a", "font": "Inter"},
          "data": {"name": "band"},
          "mark": {"type": "text", "text": ""}
        },
        {
          "width": 190, "height": 1,
          "title": {"text": "swissblock", "orient": "top", "baseline": "alphabetic", "offset": -25, "anchor": "end", "fontSize": 18, "fontWeight": 700, "color": "#16164a", "font": "Inter"},
          "data": {"name": "band"},
          "mark": {"type": "text", "text": ""}
        }
      ]
    },
    {
      "width": 561, "height": 73,
      "layer": [
        {
          "data": {"name": "band"},
          "mark": {"type": "rect", "color": "#fdd6d6"},
          "encoding": {
            "x": {"field": "a", "type": "temporal", "title": null},
            "x2": {"field": "b"},
            "y": {"datum": 93400, "type": "quantitative", "title": null},
            "y2": {"datum": 20000}
          }
        },
        {
          "data": {"name": "price"},
          "mark": {"type": "line", "strokeWidth": 1.2},
          "encoding": {
            "x": {"field": "t", "type": "temporal", "title": null,
              "scale": {"type": "utc", "domain": [{"year": 2026, "month": 1, "date": 1, "utc": true}, {"year": 2026, "month": 6, "date": 4, "utc": true}]},
              "axis": {"labelExpr": "utcFormat(datum.value, '%b')", "tickCount": {"interval": "month"}, "grid": true, "gridColor": "#ebebf0", "labelPadding": 3, "zindex": 1}},
            "y": {"field": "v", "type": "quantitative", "title": null,
              "scale": {"domain": [62700, 98300], "nice": false, "zero": false},
              "axis": {"orient": "right", "tickCount": 4, "labelExpr": "(datum.value / 1000) + 'K'", "labelOverlap": false, "grid": true, "gridColor": "#ebebf0", "labelPadding": 7, "zindex": 1}},
            "color": {"field": "s", "type": "nominal",
              "scale": {"domain": ["Price", "Support", "Resistance"], "range": ["#f5a445", "#4b4bd6", "#f29595"]},
              "legend": {"title": "BTC Price"}}
          }
        },
        {
          "data": {"name": "notes"},
          "transform": [{"filter": "datum.p == 1"}],
          "mark": {"type": "text", "fontSize": 8, "fontWeight": 500, "color": "#2d2d8f"},
          "encoding": {
            "x": {"field": "t", "type": "temporal", "title": null},
            "y": {"field": "v", "type": "quantitative", "title": null},
            "text": {"field": "txt"}
          }
        },
        {
          "data": {"name": "badge"},
          "transform": [{"filter": "datum.p == 1"}],
          "mark": {"type": "rect", "color": "#f5a445", "cornerRadius": 2},
          "encoding": {
            "x": {"datum": {"year": 2026, "month": 6, "date": 5, "utc": true}, "type": "temporal", "title": null},
            "x2": {"datum": {"year": 2026, "month": 6, "date": 10, "hours": 12, "utc": true}},
            "y": {"datum": 68000, "type": "quantitative", "title": null},
            "y2": {"datum": 62700}
          }
        },
        {
          "data": {"name": "badge"},
          "transform": [{"filter": "datum.p == 1"}],
          "mark": {"type": "text", "color": "white", "fontSize": 8, "fontWeight": 500},
          "encoding": {
            "x": {"datum": {"year": 2026, "month": 6, "date": 7, "hours": 18, "utc": true}, "type": "temporal", "title": null},
            "y": {"datum": 65350, "type": "quantitative", "title": null},
            "text": {"field": "label"}
          }
        }
      ]
    },
    {
      "width": 561, "height": 74,
      "layer": [
        {
          "data": {"name": "band"},
          "mark": {"type": "rect", "color": "#fdd6d6"},
          "encoding": {
            "x": {"field": "a", "type": "temporal", "title": null},
            "x2": {"field": "b"},
            "y": {"datum": 1.05, "type": "quantitative", "title": null},
            "y2": {"datum": -3}
          }
        },
        {
          "data": {"name": "zone"},
          "mark": {"type": "rect", "color": "#000000", "opacity": 0.075},
          "encoding": {
            "y": {"field": "lo", "type": "quantitative", "title": null},
            "y2": {"field": "hi"}
          }
        },
        {
          "data": {"name": "zone"},
          "mark": {"type": "rule", "color": "#ffffff", "strokeWidth": 1, "opacity": 0.7},
          "encoding": {"y": {"datum": 0, "type": "quantitative", "title": null}}
        },
        {
          "data": {"name": "zone"},
          "mark": {"type": "rule", "color": "#5b5b8f", "strokeDash": [3, 2.5], "strokeWidth": 0.9},
          "encoding": {"y": {"field": "lo", "type": "quantitative", "title": null}}
        },
        {
          "data": {"name": "zone"},
          "mark": {"type": "rule", "color": "#5b5b8f", "strokeDash": [3, 2.5], "strokeWidth": 0.9},
          "encoding": {"y": {"field": "hi", "type": "quantitative", "title": null}}
        },
        {
          "data": {"name": "mom"},
          "mark": {"type": "line", "strokeWidth": 1.3},
          "encoding": {
            "x": {"field": "t", "type": "temporal", "title": null,
              "scale": {"type": "utc", "domain": [{"year": 2026, "month": 1, "date": 1, "utc": true}, {"year": 2026, "month": 6, "date": 4, "utc": true}]},
              "axis": {"labelExpr": "utcFormat(datum.value, '%b')", "tickCount": {"interval": "month"}, "grid": true, "gridColor": "#b9b9cc", "gridDash": [1, 2.5], "labelPadding": 2, "zindex": 1}},
            "y": {"field": "v", "type": "quantitative", "title": null,
              "scale": {"domain": [-1.05, 1.05], "nice": false, "zero": false},
              "axis": {"orient": "right", "tickCount": 5, "labelExpr": "datum.value < -0.75 ? '' : toString(datum.value)", "labelOverlap": false, "grid": false, "labelPadding": 7, "zindex": 1}},
            "color": {"field": "c", "type": "nominal",
              "scale": {"domain": ["Positive", "Negative"], "range": ["#4d6fe3", "#f26d6d"]},
              "legend": {"title": "Price Momentum"}},
            "detail": {"field": "g"}
          }
        },
        {
          "data": {"name": "dots"},
          "transform": [{"filter": "datum.p == 2 && datum.k == 'neg'"}],
          "mark": {"type": "point", "filled": true, "size": 130, "color": "#f26d6d", "opacity": 0.6, "stroke": "#d84c4c", "strokeDash": [2, 1.5], "strokeWidth": 0.8},
          "encoding": {
            "x": {"field": "t", "type": "temporal", "title": null},
            "y": {"field": "v", "type": "quantitative", "title": null}
          }
        },
        {
          "data": {"name": "dots"},
          "transform": [{"filter": "datum.p == 2 && datum.k == 'pos'"}],
          "mark": {"type": "point", "filled": true, "size": 130, "color": "#5b6de6", "opacity": 0.8, "stroke": "#3a4ad0", "strokeDash": [2, 1.5], "strokeWidth": 0.8},
          "encoding": {
            "x": {"field": "t", "type": "temporal", "title": null},
            "y": {"field": "v", "type": "quantitative", "title": null}
          }
        },
        {
          "data": {"name": "arrows"},
          "transform": [{"filter": "datum.p == 2"}],
          "mark": {"type": "rule", "color": "#3b3b9c", "strokeWidth": 0.8},
          "encoding": {
            "x": {"field": "t", "type": "temporal", "title": null},
            "y": {"field": "v", "type": "quantitative", "title": null},
            "x2": {"field": "t2"},
            "y2": {"field": "v2"}
          }
        },
        {
          "data": {"name": "arrows"},
          "transform": [{"filter": "datum.id == 'a1' || datum.id == 'a4'"}],
          "mark": {"type": "point", "shape": "triangle", "filled": true, "size": 14, "angle": 80, "color": "#3b3b9c", "opacity": 1},
          "encoding": {
            "x": {"field": "t2", "type": "temporal", "title": null},
            "y": {"field": "v2", "type": "quantitative", "title": null}
          }
        },
        {
          "data": {"name": "arrows"},
          "transform": [{"filter": "datum.id == 'a2'"}],
          "mark": {"type": "point", "shape": "triangle", "filled": true, "size": 14, "angle": 270, "color": "#3b3b9c", "opacity": 1},
          "encoding": {
            "x": {"field": "t2", "type": "temporal", "title": null},
            "y": {"field": "v2", "type": "quantitative", "title": null}
          }
        },
        {
          "data": {"name": "arrows"},
          "transform": [{"filter": "datum.id == 'a3'"}],
          "mark": {"type": "point", "shape": "triangle", "filled": true, "size": 14, "angle": 113, "color": "#3b3b9c", "opacity": 1},
          "encoding": {
            "x": {"field": "t2", "type": "temporal", "title": null},
            "y": {"field": "v2", "type": "quantitative", "title": null}
          }
        },
        {
          "data": {"name": "notes"},
          "transform": [{"filter": "datum.p == 2"}],
          "mark": {"type": "text", "fontSize": 8, "fontWeight": 500, "color": "#2d2d8f"},
          "encoding": {
            "x": {"field": "t", "type": "temporal", "title": null},
            "y": {"field": "v", "type": "quantitative", "title": null},
            "text": {"field": "txt"}
          }
        },
        {
          "data": {"name": "badge"},
          "transform": [{"filter": "datum.p == 2"}],
          "mark": {"type": "rect", "color": "#f26b6b", "cornerRadius": 2},
          "encoding": {
            "x": {"datum": {"year": 2026, "month": 6, "date": 5, "utc": true}, "type": "temporal", "title": null},
            "x2": {"datum": {"year": 2026, "month": 6, "date": 10, "hours": 12, "utc": true}},
            "y": {"datum": -0.66, "type": "quantitative", "title": null},
            "y2": {"datum": -1.03}
          }
        },
        {
          "data": {"name": "badge"},
          "transform": [{"filter": "datum.p == 2"}],
          "mark": {"type": "text", "color": "white", "fontSize": 8, "fontWeight": 500},
          "encoding": {
            "x": {"datum": {"year": 2026, "month": 6, "date": 7, "hours": 18, "utc": true}, "type": "temporal", "title": null},
            "y": {"datum": -0.845, "type": "quantitative", "title": null},
            "text": {"field": "label"}
          }
        }
      ]
    },
    {
      "width": 561, "height": 74,
      "layer": [
        {
          "data": {"name": "band"},
          "mark": {"type": "rect", "color": "#fdd6d6"},
          "encoding": {
            "x": {"field": "a", "type": "temporal", "title": null},
            "x2": {"field": "b"},
            "y": {"datum": 1.05, "type": "quantitative", "title": null},
            "y2": {"datum": -1.0}
          }
        },
        {
          "data": {"name": "nbox"},
          "mark": {"type": "rect", "color": "#6f74e6", "opacity": 0.65, "stroke": "#444466", "strokeDash": [3, 2], "strokeWidth": 0.9},
          "encoding": {
            "x": {"field": "a", "type": "temporal", "title": null},
            "x2": {"field": "b"},
            "y": {"field": "hi", "type": "quantitative", "title": null},
            "y2": {"field": "lo"}
          }
        },
        {
          "data": {"name": "imp"},
          "mark": {"type": "line", "strokeWidth": 1.3},
          "encoding": {
            "x": {"field": "t", "type": "temporal", "title": null,
              "scale": {"type": "utc", "domain": [{"year": 2026, "month": 1, "date": 1, "utc": true}, {"year": 2026, "month": 6, "date": 4, "utc": true}]},
              "axis": {"labelExpr": "utcFormat(datum.value, '%b')", "tickCount": {"interval": "month"}, "grid": true, "gridColor": "#d8d8e4", "labelPadding": 2, "zindex": 1}},
            "y": {"field": "v", "type": "quantitative", "title": null,
              "scale": {"domain": [-1.05, 1.05], "nice": false, "zero": false},
              "axis": {"orient": "right", "tickCount": 5, "labelExpr": "datum.value < -0.75 ? '' : toString(datum.value)", "labelOverlap": false, "grid": false, "labelPadding": 7, "zindex": 1}},
            "color": {"field": "c", "type": "nominal",
              "scale": {"domain": ["Positive", "Negative"], "range": ["#3f63e6", "#f25a5a"]},
              "legend": {"title": "BTC Impulse"}},
            "detail": {"field": "g"}
          }
        },
        {
          "data": {"name": "dots"},
          "transform": [{"filter": "datum.p == 3"}],
          "mark": {"type": "point", "filled": true, "size": 130, "color": "#f26d6d", "opacity": 0.6, "stroke": "#d84c4c", "strokeDash": [2, 1.5], "strokeWidth": 0.8},
          "encoding": {
            "x": {"field": "t", "type": "temporal", "title": null},
            "y": {"field": "v", "type": "quantitative", "title": null}
          }
        },
        {
          "data": {"name": "arrows"},
          "transform": [{"filter": "datum.p == 3"}],
          "mark": {"type": "rule", "color": "#3b3b9c", "strokeWidth": 0.8},
          "encoding": {
            "x": {"field": "t", "type": "temporal", "title": null},
            "y": {"field": "v", "type": "quantitative", "title": null},
            "x2": {"field": "t2"},
            "y2": {"field": "v2"}
          }
        },
        {
          "data": {"name": "arrows"},
          "transform": [{"filter": "datum.id == 'a5'"}],
          "mark": {"type": "point", "shape": "triangle", "filled": true, "size": 14, "angle": 60, "color": "#3b3b9c", "opacity": 1},
          "encoding": {
            "x": {"field": "t2", "type": "temporal", "title": null},
            "y": {"field": "v2", "type": "quantitative", "title": null}
          }
        },
        {
          "data": {"name": "notes"},
          "transform": [{"filter": "datum.p == 3"}],
          "mark": {"type": "text", "fontSize": 8, "fontWeight": 500, "color": "#2d2d8f"},
          "encoding": {
            "x": {"field": "t", "type": "temporal", "title": null},
            "y": {"field": "v", "type": "quantitative", "title": null},
            "text": {"field": "txt"}
          }
        },
        {
          "data": {"name": "badge"},
          "transform": [{"filter": "datum.p == 3"}],
          "mark": {"type": "rect", "color": "#f26b6b", "cornerRadius": 2},
          "encoding": {
            "x": {"datum": {"year": 2026, "month": 6, "date": 5, "utc": true}, "type": "temporal", "title": null},
            "x2": {"datum": {"year": 2026, "month": 6, "date": 10, "hours": 12, "utc": true}},
            "y": {"datum": -0.67, "type": "quantitative", "title": null},
            "y2": {"datum": -1.04}
          }
        },
        {
          "data": {"name": "badge"},
          "transform": [{"filter": "datum.p == 3"}],
          "mark": {"type": "text", "color": "white", "fontSize": 8, "fontWeight": 500},
          "encoding": {
            "x": {"datum": {"year": 2026, "month": 6, "date": 7, "hours": 18, "utc": true}, "type": "temporal", "title": null},
            "y": {"datum": -0.855, "type": "quantitative", "title": null},
            "text": {"field": "label"}
          }
        }
      ]
    }
  ]
}
